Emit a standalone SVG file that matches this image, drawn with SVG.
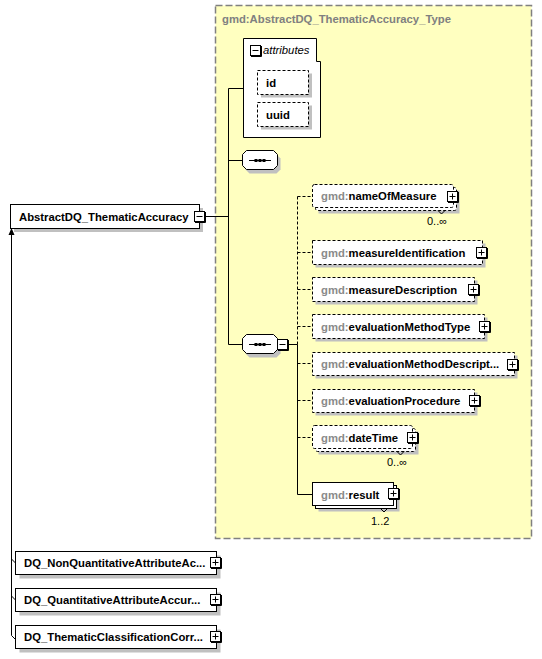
<svg xmlns="http://www.w3.org/2000/svg" xmlns:xlink="http://www.w3.org/1999/xlink" width="542" height="659" viewBox="0 0 542 659">
<style>
text{font-family:"Liberation Sans",Arial,sans-serif;font-size:11.3px;fill:#000}
.b{font-weight:bold}
.g{fill:#8a8a8a}
.title{font-weight:bold;fill:#808080}
.occ{font-size:11px}
.sh{fill:#c0c0c0;stroke:none}
.box{fill:#fff;stroke:#000;stroke-width:1}
.dbox{fill:#fff;stroke:#000;stroke-width:1;stroke-dasharray:3,2}
.ln{fill:none;stroke:#000;stroke-width:1}
.dl{fill:none;stroke:#000;stroke-width:1;stroke-dasharray:3,2}
</style>
<defs>
<g id="plus"><rect x="0.5" y="0.5" width="10" height="10" fill="#fff" stroke="#000"/><path d="M11.5,1V11.5H1" fill="none" stroke="#000"/><path d="M2.5,5.5H8.5M5.5,2.5V8.5" stroke="#000"/></g>
<g id="minus"><rect x="0.5" y="0.5" width="10" height="10" fill="#fff" stroke="#000"/><path d="M11.5,1V11.5H1" fill="none" stroke="#000"/><path d="M2.5,5.5H8.5" stroke="#000"/></g>
<path id="oct" d="M4,0.5H31L35,4.5V15.5L31,19.5H4L0,15.5V4.5Z"/>
<g id="seqsym"><path d="M6.5,10H28.5" stroke="#000"/><rect x="12" y="8.5" width="3" height="3"/><rect x="16" y="8.5" width="3" height="3"/><rect x="20" y="8.5" width="3" height="3"/></g>
</defs>

<g id="type-box">
<rect x="215.5" y="5.5" width="316" height="533" fill="#ffffc0" stroke="#808080" stroke-width="1.5" stroke-dasharray="7,3"/>
<text x="222" y="23" class="title">gmd:AbstractDQ_ThematicAccuracy_Type</text>
</g>

<g id="connectors">
<path class="ln" d="M205,216.5H228.5M228.5,88.5V344.5M228.5,88.5H243.5M228.5,160.5H242.5M228.5,344.5H242.5M288,344.5H297.5"/>
<path class="dl" d="M297.5,196.5V344.5"/>
<path class="ln" d="M297.5,344.5V494.5H312.5"/>
<path class="dl" d="M297.5,196.5H312.5M297.5,252.5H312.5M297.5,289.5H312.5M297.5,326.5H312.5M297.5,363.5H312.5M297.5,400.5H312.5M297.5,437.5H312.5"/>
<path class="ln" d="M11.5,233V635.5L15.5,639.5M11.5,559L15.5,563M11.5,596L15.5,600"/>
<polygon points="11.5,228 8.5,235 14.5,235" fill="#000"/>
</g>

<g id="attributes">
<path d="M243.5,38.5H316.5V61.5H320.5V137.5H243.5Z" class="box"/>
<use xlink:href="#minus" x="250" y="45"/>
<text x="263" y="54" font-style="italic">attributes</text>
</g>
<g id="attr-id">
<rect x="261" y="73.5" width="51" height="24" class="sh"/>
<rect x="257.5" y="70.5" width="51" height="24" class="dbox"/>
<text x="266" y="86.5" class="b">id</text>
</g>
<g id="attr-uuid">
<rect x="261" y="105.5" width="51" height="24" class="sh"/>
<rect x="257.5" y="102.5" width="51" height="24" class="dbox"/>
<text x="266" y="118.5" class="b">uuid</text>
</g>

<g id="main-node">
<rect x="14" y="208" width="189" height="24" class="sh"/>
<rect x="10.5" y="204.5" width="189" height="24" class="box"/>
<text x="19" y="221" class="b">AbstractDQ_ThematicAccuracy</text>
<use xlink:href="#minus" x="194" y="211"/>
</g>

<g id="sequence-1">
<use xlink:href="#oct" x="245.5" y="154" class="sh"/>
<use xlink:href="#oct" x="242.5" y="150" class="box"/>
<use xlink:href="#seqsym" x="242.5" y="150.5"/>
</g>

<g id="sequence-2">
<use xlink:href="#oct" x="245.5" y="338" class="sh"/>
<use xlink:href="#oct" x="242.5" y="334" class="box"/>
<use xlink:href="#seqsym" x="242.5" y="334.5"/>
<use xlink:href="#minus" x="277" y="339"/>
</g>

<g id="nameOfMeasure">
<rect x="318.5" y="190.5" width="141" height="23" class="sh"/>
<rect x="315.5" y="187.5" width="141" height="23" rx="2" class="dbox"/>
<rect x="312.5" y="184.5" width="141" height="23" rx="2" class="dbox"/>
<path d="M438,210.5L441.5,214L445,210.5" class="ln"/>
<text x="321" y="200" class="b"><tspan class="g">gmd:</tspan>nameOfMeasure</text>
<use xlink:href="#plus" x="447" y="191"/>
<text x="427" y="225" class="occ">0..∞</text>
</g>

<g id="measureIdentification">
<rect x="315.5" y="243.5" width="170" height="24" class="sh"/>
<rect x="312.5" y="240.5" width="170" height="24" class="dbox"/>
<text x="321" y="256.5" class="b"><tspan class="g">gmd:</tspan>measureIdentification</text>
<use xlink:href="#plus" x="476" y="247"/>
</g>

<g id="measureDescription">
<rect x="315.5" y="280.5" width="162" height="24" class="sh"/>
<rect x="312.5" y="277.5" width="162" height="24" class="dbox"/>
<text x="321" y="293.5" class="b"><tspan class="g">gmd:</tspan>measureDescription</text>
<use xlink:href="#plus" x="468" y="284"/>
</g>

<g id="evaluationMethodType">
<rect x="315.5" y="317.5" width="172" height="24" class="sh"/>
<rect x="312.5" y="314.5" width="172" height="24" class="dbox"/>
<text x="321" y="330.5" class="b"><tspan class="g">gmd:</tspan>evaluationMethodType</text>
<use xlink:href="#plus" x="479" y="321"/>
</g>

<g id="evaluationMethodDescription">
<rect x="315.5" y="355.5" width="202" height="23" class="sh"/>
<rect x="312.5" y="352.5" width="202" height="23" class="dbox"/>
<text x="321" y="368" class="b"><tspan class="g">gmd:</tspan>evaluationMethodDescript...</text>
<use xlink:href="#plus" x="507" y="359"/>
</g>

<g id="evaluationProcedure">
<rect x="315.5" y="392.5" width="162" height="23" class="sh"/>
<rect x="312.5" y="389.5" width="162" height="23" class="dbox"/>
<text x="321" y="405" class="b"><tspan class="g">gmd:</tspan>evaluationProcedure</text>
<use xlink:href="#plus" x="469" y="395"/>
</g>

<g id="dateTime">
<rect x="318.5" y="431.5" width="100" height="23" class="sh"/>
<rect x="315.5" y="428.5" width="100" height="23" rx="2" class="dbox"/>
<rect x="312.5" y="425.5" width="100" height="23" rx="2" class="dbox"/>
<path d="M397,451.5L400.5,455L404,451.5" class="ln"/>
<text x="321" y="441.5" class="b"><tspan class="g">gmd:</tspan>dateTime</text>
<use xlink:href="#plus" x="407" y="432"/>
<text x="387" y="466" class="occ">0..∞</text>
</g>

<g id="result">
<rect x="318.5" y="488.5" width="81" height="23" class="sh"/>
<rect x="315.5" y="485.5" width="81" height="23" class="box"/>
<rect x="312.5" y="482.5" width="81" height="23" class="box"/>
<path d="M380.5,508.5L384,512L387.5,508.5" class="ln"/>
<text x="321" y="498.5" class="b"><tspan class="g">gmd:</tspan>result</text>
<use xlink:href="#plus" x="388" y="488"/>
<text x="371" y="525" class="occ">1..2</text>
</g>

<g id="DQ_NonQuantitativeAttributeAccuracy">
<rect x="19.5" y="555.5" width="201" height="23" class="sh"/>
<rect x="15.5" y="551.5" width="201" height="23" class="box"/>
<text x="24" y="567" class="b">DQ_NonQuantitativeAttributeAc...</text>
<use xlink:href="#plus" x="210" y="557"/>
</g>

<g id="DQ_QuantitativeAttributeAccuracy">
<rect x="19.5" y="592.5" width="201" height="23" class="sh"/>
<rect x="15.5" y="588.5" width="201" height="23" class="box"/>
<text x="24" y="604" class="b">DQ_QuantitativeAttributeAccur...</text>
<use xlink:href="#plus" x="210" y="594"/>
</g>

<g id="DQ_ThematicClassificationCorrectness">
<rect x="19.5" y="629.5" width="201" height="23" class="sh"/>
<rect x="15.5" y="625.5" width="201" height="23" class="box"/>
<text x="24" y="641" class="b">DQ_ThematicClassificationCorr...</text>
<use xlink:href="#plus" x="210" y="631"/>
</g>
</svg>
